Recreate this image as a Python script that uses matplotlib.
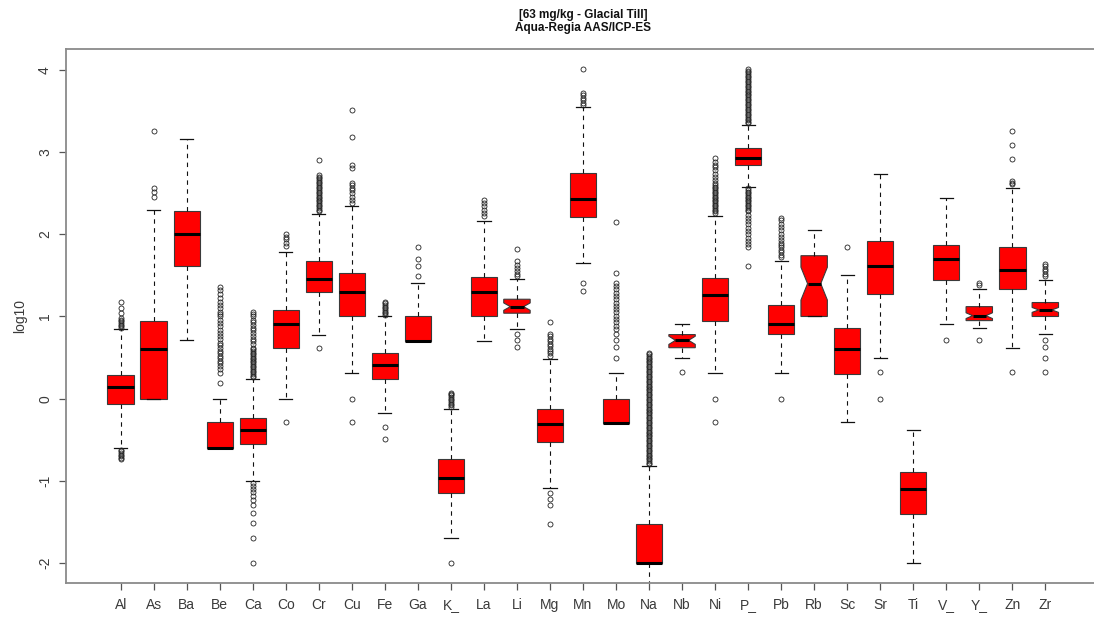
import matplotlib
matplotlib.use("Agg")
import matplotlib.pyplot as plt

plt.rcParams["font.family"] = ["Liberation Sans", "DejaVu Sans"]
plt.rcParams["axes.unicode_minus"] = False

# Element labels and five-number summaries (log10 mg/kg)
elements = ["Al", "As", "Ba", "Be", "Ca", "Co", "Cr", "Cu", "Fe", "Ga", "K_", "La",
            "Li", "Mg", "Mn", "Mo", "Na", "Nb", "Ni", "P_", "Pb", "Rb", "Sc", "Sr",
            "Ti", "V_", "Y_", "Zn", "Zr"]
q1 = [-0.07, 0.00, 1.61, -0.60, -0.55, 0.62, 1.30, 1.00, 0.24, 0.70, -1.15, 1.00,
      1.04, -0.53, 2.21, -0.30, -2.00, 0.62, 0.94, 2.85, 0.79, 1.00, 0.30, 1.27,
      -1.40, 1.45, 0.95, 1.34, 1.00]
median = [0.14, 0.61, 2.00, -0.60, -0.38, 0.91, 1.46, 1.30, 0.41, 0.70, -0.96, 1.30,
          1.12, -0.31, 2.43, -0.30, -2.00, 0.71, 1.26, 2.93, 0.91, 1.40, 0.61, 1.61,
          -1.10, 1.70, 1.01, 1.57, 1.08]
q3 = [0.29, 0.95, 2.28, -0.29, -0.23, 1.08, 1.68, 1.53, 0.56, 1.00, -0.74, 1.48,
      1.21, -0.12, 2.75, 0.00, -1.52, 0.78, 1.47, 3.05, 1.14, 1.74, 0.86, 1.92,
      -0.89, 1.87, 1.12, 1.85, 1.17]
whisker_lo = [-0.60, 0.00, 0.71, -0.60, -1.00, 0.00, 0.78, 0.31, -0.17, 0.70, -1.70, 0.70,
              0.85, -1.09, 1.65, -0.30, -2.35, 0.49, 0.31, 2.58, 0.31, 1.00, -0.29, 0.49,
              -2.00, 0.91, 0.86, 0.62, 0.79]
whisker_hi = [0.845, 2.30, 3.16, 0.00, 0.24, 1.78, 2.25, 2.34, 1.00, 1.41, -0.12, 2.16,
              1.46, 0.48, 3.55, 0.31, -0.82, 0.91, 2.22, 3.33, 1.68, 2.05, 1.50, 2.74,
              -0.38, 2.44, 1.34, 2.57, 1.44]
# Half-width of the median confidence notch (0 = plain box)
notch_half = [0, 0, 0, 0, 0, 0, 0, 0, 0, 0, 0, 0,
              0.045, 0, 0, 0, 0, 0.05, 0, 0, 0, 0.20, 0, 0,
              0, 0, 0.035, 0, 0.03]

# Outlying samples per element
out_al = [1.18, 1.10, 1.04, 0.98, 0.96, 0.94, 0.92, 0.90, 0.88, 0.86,
          -0.62, -0.64, -0.66, -0.68, -0.70, -0.72, -0.74]
out_as = [3.26, 2.57, 2.51, 2.45]
out_ba = []
out_be = [0.19, 0.31, 0.36, 0.40, 0.43, 0.46, 0.49, 0.52, 0.55, 0.58, 0.62, 0.65,
          0.68, 0.72, 0.76, 0.80, 0.84, 0.88, 0.92, 0.96, 1.00, 1.03, 1.06, 1.10,
          1.14, 1.18, 1.22, 1.27, 1.32, 1.36]
out_ca = [0.26, 0.28, 0.30, 0.32, 0.34, 0.36, 0.38, 0.40, 0.42, 0.44, 0.46, 0.48,
          0.50, 0.52, 0.54, 0.56, 0.58, 0.60, 0.62, 0.66, 0.70, 0.73, 0.76, 0.80,
          0.83, 0.86, 0.90, 0.93, 0.96, 1.00, 1.03, 1.05,
          -1.03, -1.06, -1.10, -1.14, -1.18, -1.23, -1.30, -1.39, -1.51, -1.70, -2.00]
out_co = [2.00, 1.97, 1.94, 1.90, 1.86, -0.29]
out_cr = [2.28, 2.30, 2.32, 2.34, 2.36, 2.38, 2.40, 2.42, 2.44, 2.46, 2.48, 2.50,
          2.52, 2.54, 2.56, 2.58, 2.60, 2.62, 2.64, 2.66, 2.68, 2.70, 2.72, 2.90, 0.62]
out_cu = [3.51, 3.19, 2.85, 2.81, 2.63, 2.60, 2.57, 2.54, 2.50, 2.46, 2.42, 2.38,
          0.00, -0.29]
out_fe = [1.02, 1.04, 1.06, 1.08, 1.10, 1.12, 1.14, 1.16, 1.18, -0.34, -0.49]
out_ga = [1.85, 1.70, 1.61, 1.49]
out_k = [-0.10, -0.08, -0.06, -0.04, -0.02, 0.00, 0.02, 0.04, 0.06, 0.07, -2.00]
out_la = [2.42, 2.38, 2.34, 2.30, 2.26, 2.22]
out_li = [1.82, 1.68, 1.63, 1.59, 1.55, 1.52, 1.49, 0.79, 0.71, 0.63]
out_mg = [0.93, 0.79, 0.76, 0.73, 0.70, 0.67, 0.64, 0.61, 0.58, 0.55, 0.52,
          -1.15, -1.22, -1.30, -1.52]
out_mn = [4.01, 3.72, 3.69, 3.66, 3.63, 3.60, 3.58, 1.41, 1.31]
out_mo = [2.15, 1.53, 1.41, 1.37, 1.33, 1.29, 1.25, 1.21, 1.17, 1.13, 1.09, 1.05,
          1.01, 0.97, 0.93, 0.89, 0.85, 0.79, 0.71, 0.63, 0.50]
out_na = [-0.80, -0.78, -0.76, -0.74, -0.72, -0.70, -0.68, -0.66, -0.64, -0.62,
          -0.60, -0.58, -0.56, -0.54, -0.52, -0.50, -0.48, -0.46, -0.44, -0.42,
          -0.40, -0.38, -0.36, -0.34, -0.32, -0.30, -0.28, -0.26, -0.24, -0.22,
          -0.20, -0.18, -0.16, -0.14, -0.12, -0.10, -0.08, -0.06, -0.04, -0.02,
          0.00, 0.02, 0.04, 0.06, 0.08, 0.10, 0.12, 0.14, 0.16, 0.18, 0.20, 0.22,
          0.24, 0.26, 0.28, 0.30, 0.32, 0.34, 0.36, 0.38, 0.40, 0.42, 0.44, 0.46,
          0.48, 0.50, 0.52, 0.54, 0.56]
out_nb = [0.32]
out_ni = [2.93, 2.88, 2.85, 2.82, 2.78, 2.74, 2.70, 2.66, 2.62, 2.60, 2.58, 2.56,
          2.54, 2.52, 2.50, 2.48, 2.46, 2.44, 2.42, 2.40, 2.38, 2.36, 2.34, 2.32,
          2.30, 2.28, 2.26, 0.00, -0.29]
out_p = [3.35, 3.37, 3.39, 3.41, 3.43, 3.45, 3.47, 3.49, 3.51, 3.53, 3.55, 3.57,
         3.59, 3.61, 3.63, 3.65, 3.67, 3.69, 3.71, 3.73, 3.75, 3.77, 3.79, 3.81,
         3.83, 3.85, 3.87, 3.89, 3.91, 3.93, 3.95, 3.97, 3.99, 4.01,
         2.56, 2.54, 2.52, 2.50, 2.48, 2.46, 2.44, 2.42, 2.40, 2.38, 2.36, 2.34,
         2.32, 2.30, 2.28, 2.24, 2.20, 2.16, 2.12, 2.08, 2.04, 2.00, 1.96, 1.92,
         1.88, 1.84, 1.61]
out_pb = [2.20, 2.17, 2.13, 2.09, 2.05, 2.01, 1.97, 1.93, 1.90, 1.87, 1.84, 1.81,
          1.78, 1.75, 1.72, 0.00]
out_rb = []
out_sc = [1.84]
out_sr = [0.32, 0.00]
out_ti = []
out_v = [0.71]
out_y = [1.41, 1.38, 0.71]
out_zn = [3.26, 3.09, 2.92, 2.65, 2.63, 2.61, 0.32]
out_zr = [1.64, 1.61, 1.58, 1.55, 1.52, 1.49, 0.71, 0.63, 0.49, 0.32]

outliers = [out_al, out_as, out_ba, out_be, out_ca, out_co, out_cr, out_cu, out_fe,
            out_ga, out_k, out_la, out_li, out_mg, out_mn, out_mo, out_na, out_nb,
            out_ni, out_p, out_pb, out_rb, out_sc, out_sr, out_ti, out_v, out_y,
            out_zn, out_zr]

W, H = 1094, 618
fig = plt.figure(figsize=(W / 100, H / 100), dpi=100)
ax_left, ax_right, ax_top, ax_bottom = 66, 1100, 49, 583
ax = fig.add_axes([ax_left / W, 1 - ax_bottom / H,
                   (ax_right - ax_left) / W, (ax_bottom - ax_top) / H])

plain, plain_pos, notched, notched_pos = [], [], [], []
for i, name in enumerate(elements):
    s = dict(label=name, q1=q1[i], med=median[i], q3=q3[i],
             whislo=whisker_lo[i], whishi=whisker_hi[i], fliers=outliers[i],
             cilo=median[i] - notch_half[i], cihi=median[i] + notch_half[i])
    if notch_half[i] > 0:
        notched.append(s)
        notched_pos.append(i + 1)
    else:
        plain.append(s)
        plain_pos.append(i + 1)

style = dict(
    widths=0.8, patch_artist=True, manage_ticks=False,
    boxprops=dict(facecolor="#ff0000", edgecolor="#3a3a3a", linewidth=0.8),
    whiskerprops=dict(color="#111111", linestyle=(0, (4, 4)), linewidth=0.8),
    capprops=dict(color="#111111", linewidth=0.9),
    medianprops=dict(color="#000000", linewidth=2.2, solid_capstyle="butt"),
    flierprops=dict(marker="o", markerfacecolor="none", markeredgecolor="#222222",
                    markersize=3.6, markeredgewidth=0.6, linestyle="none"),
)
ax.bxp(plain, positions=plain_pos, shownotches=False, **style)
ax.bxp(notched, positions=notched_pos, shownotches=True, **style)

ax.set_xlim(-0.656, 30.656)
ax.set_ylim(-2.244, 4.256)
ax.set_xticks(range(1, len(elements) + 1))
ax.set_xticklabels(elements)
ax.set_yticks([-2, -1, 0, 1, 2, 3, 4])
ax.set_yticklabels(["-2", "-1", "0", "1", "2", "3", "4"], rotation=90, va="center")

for sp in ax.spines.values():
    sp.set_color("#8a8a8a")
    sp.set_linewidth(1.3)
ax.tick_params(axis="both", length=5, width=0.9, color="#555555",
               labelcolor="#3a3a3a", labelsize=10)
ax.tick_params(axis="x", pad=6)
ax.tick_params(axis="y", pad=5)

fig.text(20 / W, 1 - 316 / H, "log10", rotation=90, ha="center", va="center",
         fontsize=10, color="#3a3a3a")
cx = (ax_left + ax_right) / 2 / W
fig.text(cx, 1 - 15 / H, "[63 mg/kg - Glacial Till]", ha="center", va="center",
         fontsize=8.5, fontweight="bold", color="#111111")
fig.text(cx, 1 - 28 / H, "Aqua-Regia AAS/ICP-ES", ha="center", va="center",
         fontsize=8.5, fontweight="bold", color="#111111")

fig.savefig("out.png", dpi=100)
